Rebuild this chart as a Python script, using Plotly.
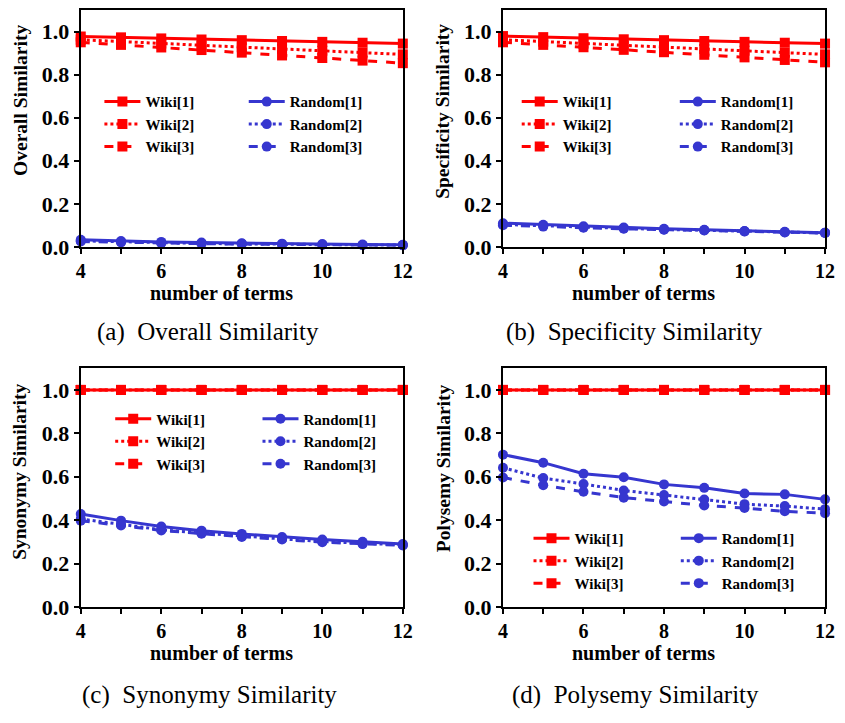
import plotly.graph_objects as go

terms = [4, 5, 6, 7, 8, 9, 10, 11, 12]

# (a) Overall Similarity
overall_wiki1 = [0.977, 0.973, 0.968, 0.963, 0.960, 0.956, 0.952, 0.948, 0.944]
overall_wiki2 = [0.962, 0.953, 0.944, 0.935, 0.927, 0.919, 0.911, 0.902, 0.894]
overall_wiki3 = [0.950, 0.938, 0.926, 0.914, 0.902, 0.889, 0.877, 0.865, 0.853]
overall_rand1 = [0.033, 0.027, 0.023, 0.020, 0.017, 0.015, 0.013, 0.011, 0.010]
overall_rand2 = [0.028, 0.023, 0.019, 0.016, 0.014, 0.012, 0.010, 0.009, 0.008]
overall_rand3 = [0.025, 0.021, 0.017, 0.015, 0.013, 0.011, 0.009, 0.008, 0.007]

# (b) Specificity Similarity
spec_wiki1 = [0.979, 0.974, 0.969, 0.964, 0.960, 0.956, 0.952, 0.948, 0.944]
spec_wiki2 = [0.962, 0.953, 0.944, 0.935, 0.927, 0.919, 0.911, 0.902, 0.894]
spec_wiki3 = [0.950, 0.938, 0.927, 0.915, 0.904, 0.892, 0.880, 0.868, 0.857]
spec_rand1 = [0.110, 0.103, 0.096, 0.090, 0.084, 0.079, 0.074, 0.070, 0.066]
spec_rand2 = [0.104, 0.097, 0.091, 0.086, 0.081, 0.077, 0.072, 0.068, 0.065]
spec_rand3 = [0.100, 0.094, 0.089, 0.084, 0.080, 0.076, 0.071, 0.067, 0.064]

# (c) Synonymy Similarity
syn_wiki1 = [1.0, 1.0, 1.0, 1.0, 1.0, 1.0, 1.0, 1.0, 1.0]
syn_wiki2 = [1.0, 1.0, 1.0, 1.0, 1.0, 1.0, 1.0, 1.0, 1.0]
syn_wiki3 = [1.0, 1.0, 1.0, 1.0, 1.0, 1.0, 1.0, 1.0, 1.0]
syn_rand1 = [0.429, 0.398, 0.371, 0.352, 0.337, 0.323, 0.311, 0.301, 0.290]
syn_rand2 = [0.406, 0.380, 0.356, 0.341, 0.326, 0.314, 0.302, 0.293, 0.286]
syn_rand3 = [0.398, 0.376, 0.353, 0.338, 0.323, 0.311, 0.299, 0.290, 0.284]

# (d) Polysemy Similarity
poly_wiki1 = [1.0, 1.0, 1.0, 1.0, 1.0, 1.0, 1.0, 1.0, 1.0]
poly_wiki2 = [1.0, 1.0, 1.0, 1.0, 1.0, 1.0, 1.0, 1.0, 1.0]
poly_wiki3 = [1.0, 1.0, 1.0, 1.0, 1.0, 1.0, 1.0, 1.0, 1.0]
poly_rand1 = [0.702, 0.665, 0.614, 0.598, 0.565, 0.549, 0.523, 0.519, 0.496]
poly_rand2 = [0.642, 0.594, 0.567, 0.537, 0.516, 0.495, 0.474, 0.465, 0.451]
poly_rand3 = [0.597, 0.561, 0.531, 0.504, 0.486, 0.468, 0.456, 0.441, 0.432]

series_names = ["Wiki[1]", "Wiki[2]", "Wiki[3]", "Random[1]", "Random[2]", "Random[3]"]
y_titles = ["Overall Similarity", "Specificity Similarity", "Synonymy Similarity", "Polysemy Similarity"]
captions = ["(a)  Overall Similarity", "(b)  Specificity Similarity",
            "(c)  Synonymy Similarity", "(d)  Polysemy Similarity"]
x_title = "number of terms"
tick_vals = [4, 5, 6, 7, 8, 9, 10, 11, 12]
tick_text = ["4", "", "6", "", "8", "", "10", "", "12"]
y_ticks = [0.0, 0.2, 0.4, 0.6, 0.8, 1.0]

panels = [
    [overall_wiki1, overall_wiki2, overall_wiki3, overall_rand1, overall_rand2, overall_rand3],
    [spec_wiki1, spec_wiki2, spec_wiki3, spec_rand1, spec_rand2, spec_rand3],
    [syn_wiki1, syn_wiki2, syn_wiki3, syn_rand1, syn_rand2, syn_rand3],
    [poly_wiki1, poly_wiki2, poly_wiki3, poly_rand1, poly_rand2, poly_rand3],
]

# page is 845x723; the html body keeps an 8px margin, so the figure is 829x707
PAGE_OFF = 8
W, H = 845 - 2 * PAGE_OFF, 723 - 2 * PAGE_OFF
RED = "#FF0000"
BLUE = "#3636CF"
FONT = "Liberation Serif, Times New Roman, serif"


def px(x):
    return min(1.0, max(0.0, (x - PAGE_OFF) / W))


def py(y):
    return min(1.0, max(0.0, 1 - (y - PAGE_OFF) / H))


# plot-area boxes in page pixels: (left, right, top, bottom)
boxes = [(77, 405, 8, 250), (507, 835, 8, 250), (77, 405, 374, 618), (507, 835, 374, 618)]
# legend positions (page pixels): wiki column x, random column x, top y
legend_pos = [(96, 243, 85), (521, 682, 85), (107, 257, 409), (533, 683, 531)]
caption_pos = [(207, 337), (641, 337), (208, 708), (642, 708)]
ytitle_pos = [(15, 100), (446, 112), (15, 480), (446, 476)]
xtitle_pos = [(220, 297), (650, 297), (220, 665), (650, 665)]

styles = [
    dict(color=RED, dash="solid", symbol="square", size=10),
    dict(color=RED, dash="dot", symbol="square", size=10),
    dict(color=RED, dash="dash", symbol="square", size=10),
    dict(color=BLUE, dash="solid", symbol="circle", size=10),
    dict(color=BLUE, dash="dot", symbol="circle", size=10),
    dict(color=BLUE, dash="dash", symbol="circle", size=10),
]

fig = go.Figure()
layout = dict(
    width=W, height=H,
    margin=dict(l=0, r=0, t=0, b=0),
    paper_bgcolor="white", plot_bgcolor="white",
    font=dict(family=FONT, color="black"),
    showlegend=True,
    annotations=[],
)

for p, data in enumerate(panels):
    ax = "" if p == 0 else str(p + 1)
    l, r, t, b = boxes[p]
    for s, vals in enumerate(data):
        st = styles[s]
        leg_idx = 2 * p + (0 if s < 3 else 1)
        leg_name = "legend" if leg_idx == 0 else f"legend{leg_idx + 1}"
        fig.add_trace(go.Scatter(
            x=terms, y=vals, name=series_names[s], mode="lines+markers",
            line=dict(color=st["color"], dash=st["dash"], width=3),
            marker=dict(symbol=st["symbol"], size=st["size"], color=st["color"]),
            xaxis="x" + ax, yaxis="y" + ax, legend=leg_name,
            cliponaxis=False,
        ))
    # legends
    wx, rx, ty = legend_pos[p]
    for c, lx in enumerate([wx, rx]):
        leg_idx = 2 * p + c
        leg_name = "legend" if leg_idx == 0 else f"legend{leg_idx + 1}"
        layout[leg_name] = dict(
            x=px(lx), y=py(ty), xanchor="left", yanchor="top",
            xref="paper", yref="paper",
            bgcolor="rgba(0,0,0,0)", borderwidth=0,
            font=dict(family=FONT, size=15, color="black", weight="bold"),
            tracegroupgap=0, itemwidth=36,
        )
    layout["xaxis" + ax] = dict(
        domain=[px(l), px(r)], anchor="y" + ax, range=[4, 12],
        tickvals=tick_vals, ticktext=tick_text,
        ticks="outside", ticklen=5, tickwidth=2, tickcolor="black",
        showline=True, linecolor="black", linewidth=2, mirror=True,
        showgrid=False, zeroline=False, ticklabeloverflow="allow",
        tickfont=dict(family=FONT, size=20, color="black", weight="bold"),
    )
    layout["yaxis" + ax] = dict(
        domain=[py(b), py(t)], anchor="x" + ax, range=[0, 1.1],
        tickvals=y_ticks, tickformat=".1f",
        ticks="outside", ticklen=5, tickwidth=2, tickcolor="black",
        showline=True, linecolor="black", linewidth=2, mirror=True,
        showgrid=False, zeroline=False, ticklabeloverflow="allow",
        tickfont=dict(family=FONT, size=22, color="black", weight="bold"),
    )
    tx, tyy = ytitle_pos[p]
    layout["annotations"].append(dict(
        text=y_titles[p], x=px(tx), y=py(tyy), xref="paper", yref="paper",
        xanchor="center", yanchor="middle", showarrow=False, textangle=-90,
        font=dict(family=FONT, size=19.5, color="black", weight="bold"),
    ))
    xx, xy = xtitle_pos[p]
    layout["annotations"].append(dict(
        text=x_title, x=px(xx), y=py(xy), xref="paper", yref="paper",
        xanchor="center", yanchor="middle", showarrow=False,
        font=dict(family=FONT, size=20, color="black", weight="bold"),
    ))
    cx, cy = caption_pos[p]
    layout["annotations"].append(dict(
        text=captions[p], x=px(cx), y=py(cy), xref="paper", yref="paper",
        xanchor="center", yanchor="middle", showarrow=False,
        font=dict(family=FONT, size=25, color="black"),
    ))

fig.update_layout(**layout)
fig.write_html(
    "out.html",
    config={"displayModeBar": False},
    post_script="document.querySelectorAll('.main-svg').forEach(function(s){s.style.overflow='visible';});",
)
